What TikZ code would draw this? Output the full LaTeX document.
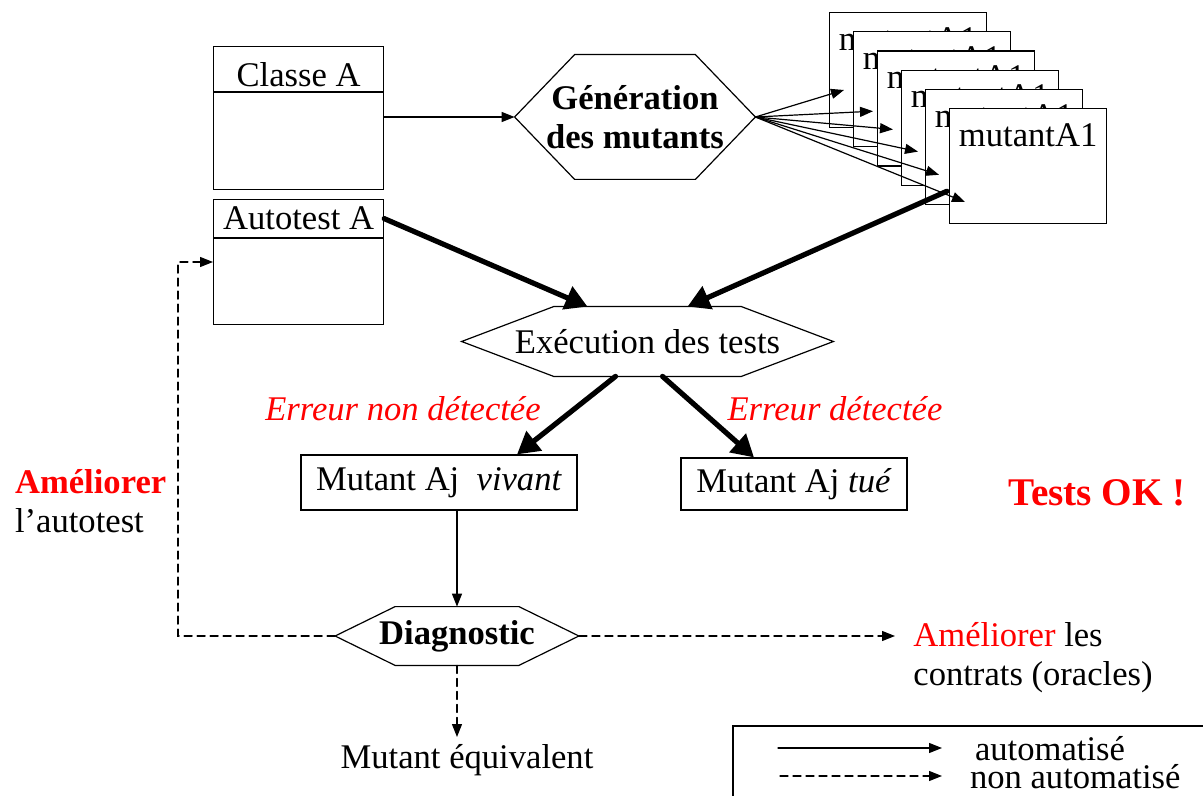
\documentclass[tikz,border=0pt]{standalone}
\usepackage{fontspec}
\setmainfont{Liberation Serif}
\usetikzlibrary{arrows.meta,calc,positioning}

\begin{document}
\begin{tikzpicture}
		[x=0.5pt,y=-0.5pt,line cap=round,
		%Styles
		every node/.style={font=\fontsize{17.3}{19.5}\selectfont},
		box/.style={draw,line width=0.6pt,fill=white,inner sep=0pt},
		hexa/.style={inner sep=0pt,align=center},
		thin arrow/.style={line width=0.6pt,-{Triangle[length=6.5pt,width=5pt]}},
		thick arrow/.style={line width=2.6pt,-{Triangle[length=11pt,width=12pt]}},
		dashed arrow/.style={thin arrow,dash pattern=on 4pt off 2.5pt},
		remark/.style={text=remarkcolor,font=\fontsize{17.3}{19.5}\selectfont\itshape}
		]
		
		%Colors
		\colorlet{remarkcolor}{red}
		
		\useasboundingbox (0,0) rectangle (1203,796);
		
		%Classes
		\node[box,minimum width=85pt,minimum height=22.5pt,anchor=north west,text height=17pt,text depth=0pt] (classhead) at (213,46) {Classe A};
		\node[box,minimum width=85pt,minimum height=48.5pt,anchor=north] (classbody) at (classhead.south) {};
		\node[box,minimum width=85pt,minimum height=19pt,anchor=north west] (autohead) at (213,199) {Autotest A};
		\node[box,minimum width=85pt,minimum height=43pt,anchor=north] (autobody) at (autohead.south) {};
		
		%Hexagons
		\node[hexa,minimum width=120pt,minimum height=62pt] (gen) at (635,117) {\bfseries G\'en\'eration\\\bfseries des mutants};
		\node[hexa,minimum width=185.5pt,minimum height=34.5pt] (exec) at (647.5,341.5) {Ex\'ecution des tests};
		\node[hexa,minimum width=121.5pt,minimum height=29pt] (diag) at (457,636) {\bfseries Diagnostic};
		\foreach \n/\d in {gen/60,exec/92,diag/60}
			\draw[line width=0.6pt] (\n.west) -- ($(\n.north west)+(\d,0)$) -- ($(\n.north east)+(-\d,0)$) -- (\n.east)
				-- ($(\n.south east)+(-\d,0)$) -- ($(\n.south west)+(\d,0)$) -- cycle;
		
		%Mutants
		\foreach \i/\dx/\dy in {1/15/78,2/20/80,3/16/79,4/17/82,5/14/86,6/16/94} {
			\node[box,minimum width=78.5pt,minimum height=57.5pt,anchor=north west,
				label={[anchor=north,yshift=-7.5pt,inner sep=0pt]north:mutantA1}] (m\i) at ({829+24*(\i-1)},{12+19.2*(\i-1)}) {};
			\coordinate (t\i) at ($(m\i.north west)+(\dx,\dy)$);
		}
		\foreach \i in {1,...,6}
			\draw[thin arrow] (gen.east) -- (t\i);
		
		\node[box,minimum width=138pt,minimum height=27.5pt] (vivant) at (439,482.5) {Mutant Aj~~\textit{vivant}};
		\node[box,minimum width=113pt,minimum height=26pt] (tue) at (794,484) {Mutant Aj \textit{tu\'e}};
		
		%Texts
		\node[remark] (nondet) at (403,409) {Erreur non d\'etect\'ee};
		\node[remark] (det) at (835,409) {Erreur d\'etect\'ee};
		\node[text=remarkcolor,font=\fontsize{19.6}{22}\selectfont\bfseries] (ok) at (1097,493) {Tests OK !};
		\node[align=left,anchor=west] (ameliorer) at (8,501) {\textcolor{remarkcolor}{\bfseries Am\'eliorer}\\l’autotest};
		\node[align=left,anchor=north west,inner sep=0pt] (contrats) at (913,622) {\textcolor{remarkcolor}{Am\'eliorer} les\\contrats (oracles)};
		\node[anchor=north] (equiv) at (467,737) {Mutant \'equivalent};
		
		%Arrows
		\draw[thin arrow] (classbody.east |- gen.west) -- (gen.west);
		\draw[thick arrow] (autohead.east) -- ($(exec.north)+(-60,0)$);
		\draw[thick arrow] ($(m6.south west)+(-2,-33)$) -- ($(exec.north)+(40,0)$);
		\draw[thick arrow] ($(exec.south)+(-32,0)$) -- ($(vivant.north)+(78,0)$);
		\draw[thick arrow] ($(exec.south)+(15,0)$) -- ($(tue.north)+(-40,0)$);
		\draw[thin arrow] (vivant.south -| diag.north) -- (diag.north);
		
		\coordinate (fb) at (178,262);
		\draw[dashed arrow] (diag.west) -| (fb) -- (fb -| autobody.west);
		\draw[dashed arrow,shorten >=9pt] (diag.east) -- (diag.east -| contrats.west);
		\draw[dashed arrow] (diag.south) -- (diag.south |- equiv.north);
		
		%Legend
		\draw[line width=0.6pt] (733,726) rectangle (1215,810);
		\node[anchor=west] (lauto) at (968,749) {automatis\'e};
		\node[anchor=west] (lnon) at (963,777) {non automatis\'e};
		\draw[thin arrow] (778,748) -- (942,748);
		\draw[dashed arrow] (780,776) -- (942,776);
	\end{tikzpicture}
\end{document}
